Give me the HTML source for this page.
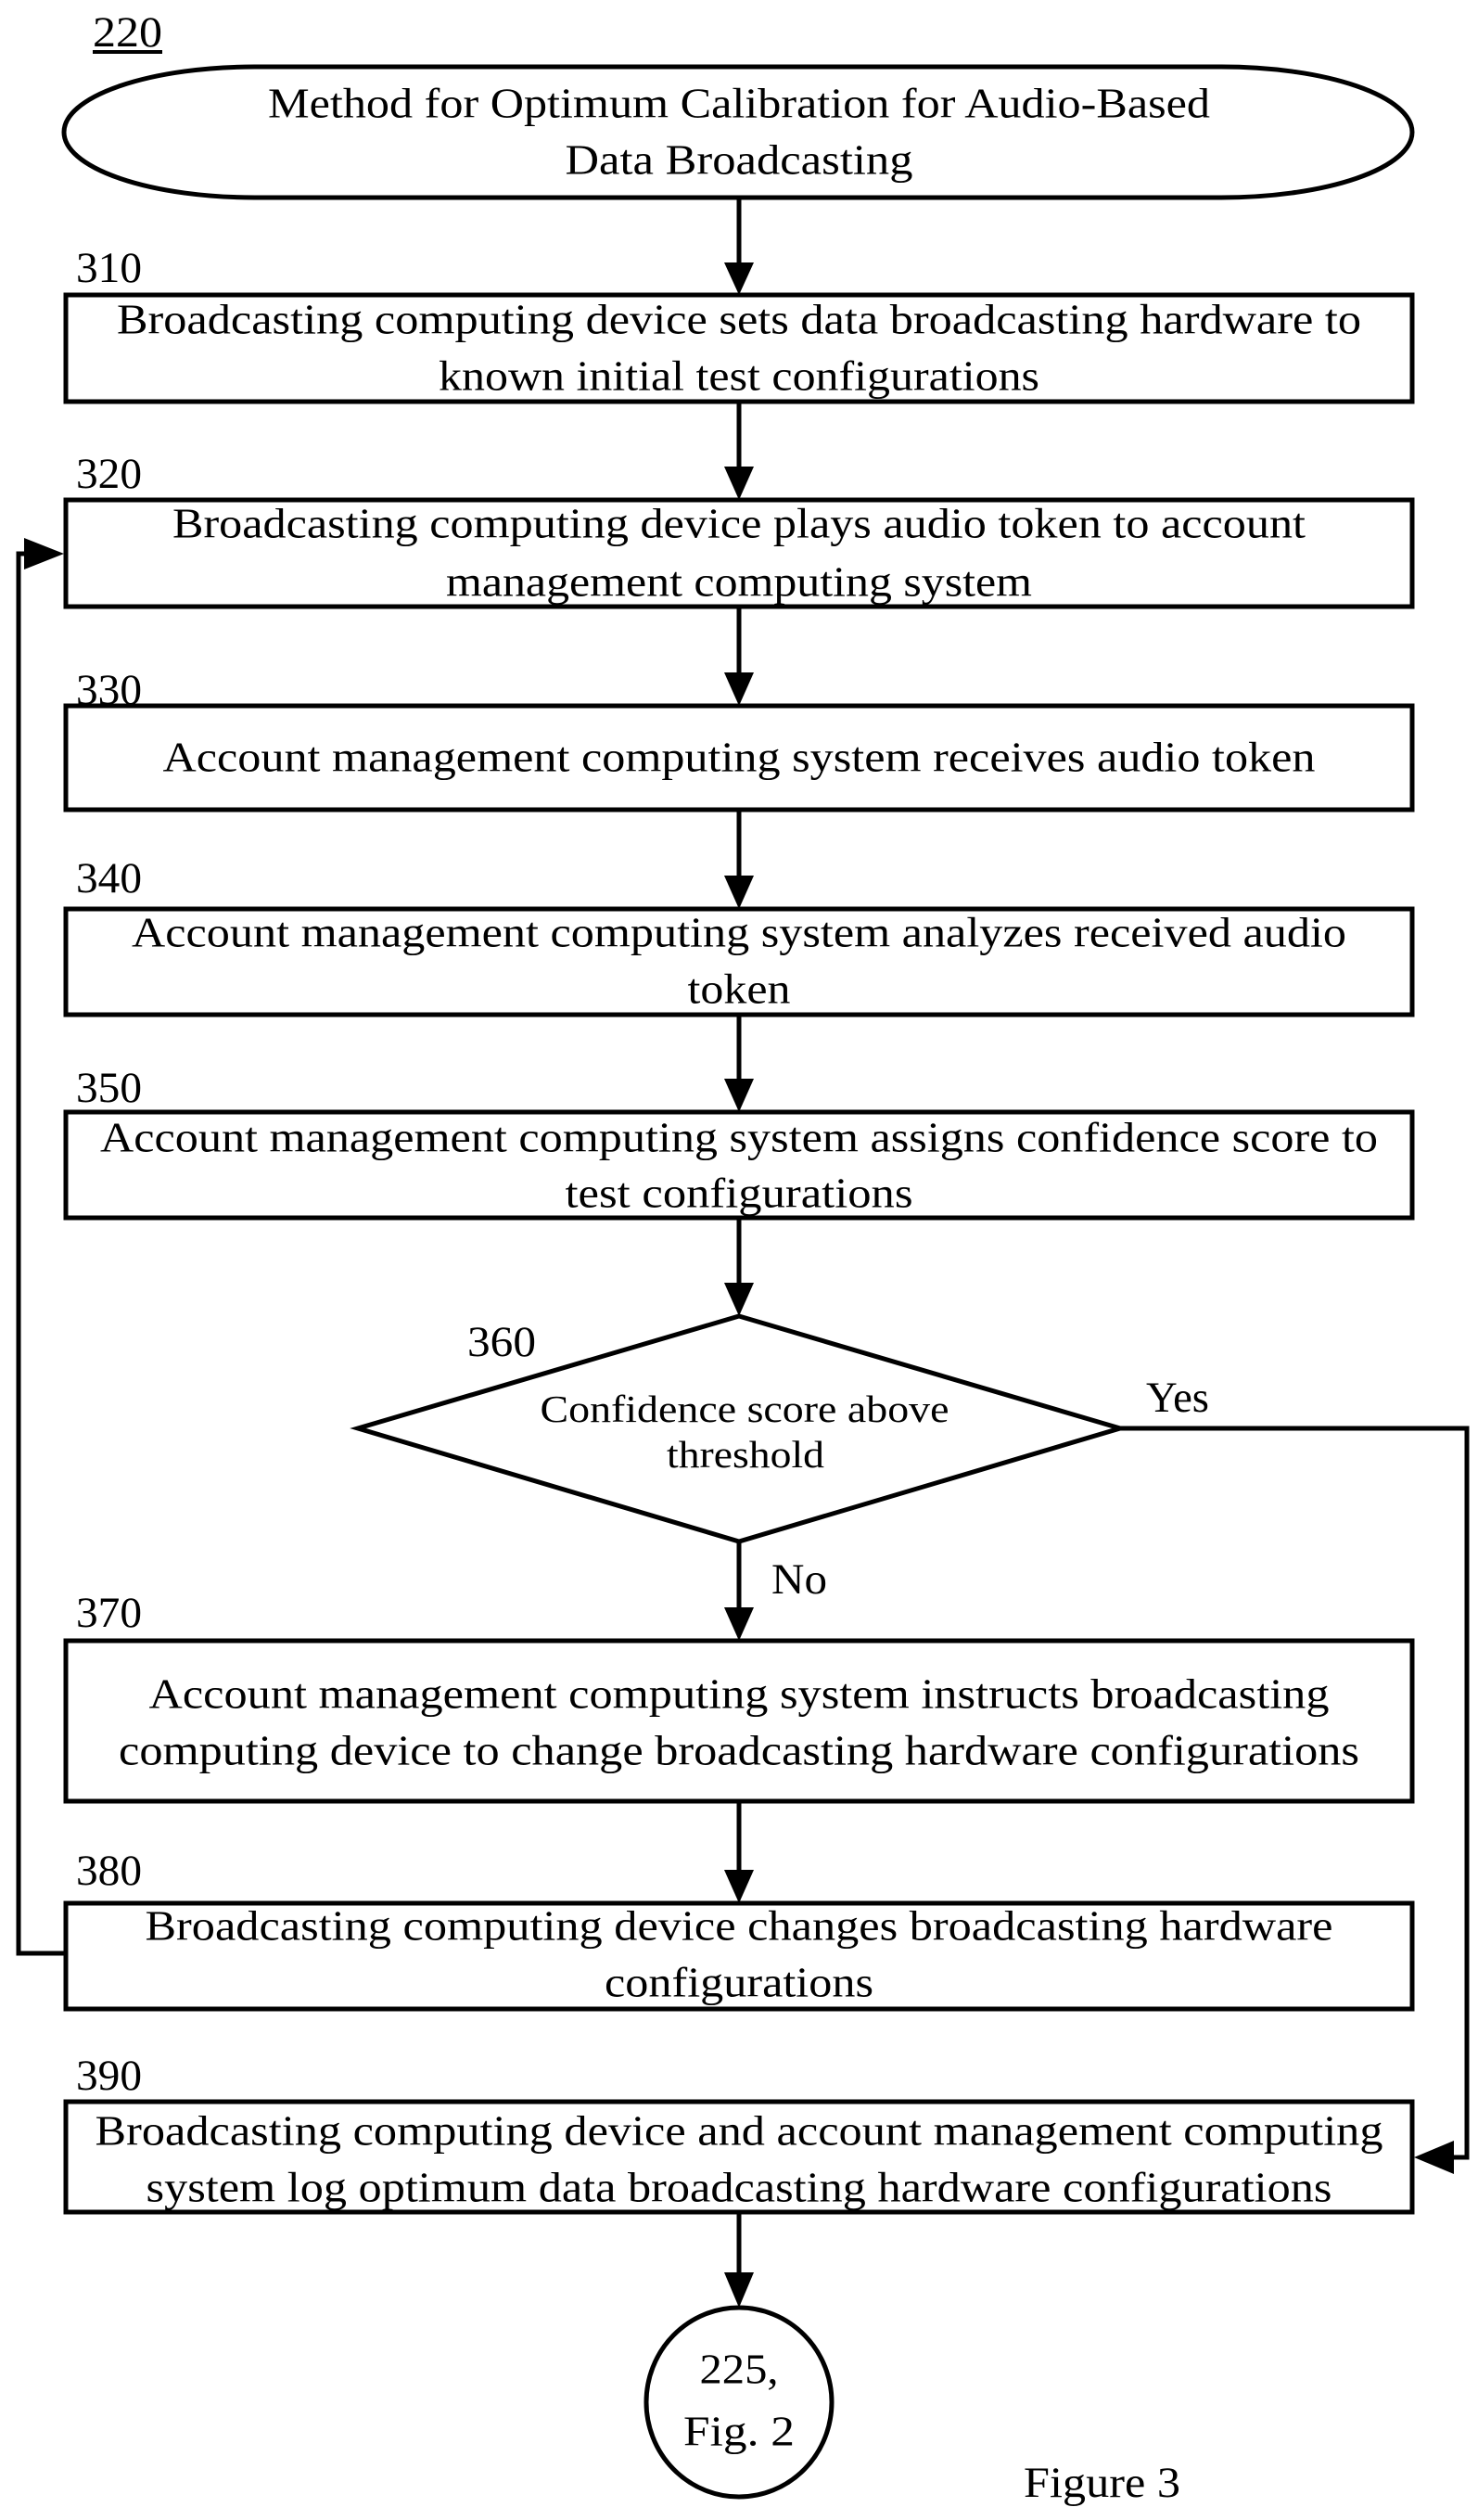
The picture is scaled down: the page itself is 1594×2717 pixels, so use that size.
<!DOCTYPE html>
<html><head><meta charset="utf-8"><style>
html,body{margin:0;padding:0;background:#fff;}
svg{display:block;}
text{font-family:"Liberation Serif",serif;fill:#000;}
</style></head><body>
<svg width="1594" height="2717" viewBox="0 0 1594 2717" xmlns="http://www.w3.org/2000/svg">
<g fill="none" stroke="#000" stroke-width="5">
<rect x="69" y="72" width="1454" height="141" rx="206" ry="70.5"/>
<rect x="71" y="318" width="1452" height="115"/>
<rect x="71" y="539" width="1452" height="115"/>
<rect x="71" y="761" width="1452" height="112"/>
<rect x="71" y="980" width="1452" height="114"/>
<rect x="71" y="1199" width="1452" height="114"/>
<polygon points="797,1419 1208,1540 797,1662 386,1540"/>
<rect x="71" y="1769" width="1452" height="173"/>
<rect x="71" y="2052" width="1452" height="114"/>
<rect x="71" y="2266" width="1452" height="119"/>
<ellipse cx="797" cy="2590" rx="100" ry="102"/>
<line x1="797" y1="213" x2="797" y2="285"/>
<line x1="797" y1="433" x2="797" y2="505"/>
<line x1="797" y1="654" x2="797" y2="727"/>
<line x1="797" y1="873" x2="797" y2="946"/>
<line x1="797" y1="1094" x2="797" y2="1165"/>
<line x1="797" y1="1313" x2="797" y2="1385"/>
<line x1="797" y1="1662" x2="797" y2="1735"/>
<line x1="797" y1="1942" x2="797" y2="2018"/>
<line x1="797" y1="2385" x2="797" y2="2452"/>
<polyline points="71,2106 20,2106 20,597 30,597"/>
<polyline points="1208,1540 1582,1540 1582,2326 1560,2326"/>
<line x1="100" y1="56" x2="175" y2="56" stroke-width="4"/>
</g>
<g fill="#000">
<polygon points="781,283 813,283 797,318"/>
<polygon points="781,503 813,503 797,539"/>
<polygon points="781,725 813,725 797,761"/>
<polygon points="781,944 813,944 797,980"/>
<polygon points="781,1163 813,1163 797,1199"/>
<polygon points="781,1383 813,1383 797,1419"/>
<polygon points="781,1733 813,1733 797,1769"/>
<polygon points="781,2016 813,2016 797,2052"/>
<polygon points="781,2450 813,2450 797,2488"/>
<polygon points="26,580 26,614 69,597"/>
<polygon points="1568,2308 1568,2344 1525,2326"/>
</g>
<g font-size="47">
<text x="100" y="50" textLength="75" lengthAdjust="spacingAndGlyphs">220</text>
<text x="82" y="304" textLength="71" lengthAdjust="spacingAndGlyphs">310</text>
<text x="82" y="526" textLength="71" lengthAdjust="spacingAndGlyphs">320</text>
<text x="82" y="759" textLength="71" lengthAdjust="spacingAndGlyphs">330</text>
<text x="82" y="962" textLength="71" lengthAdjust="spacingAndGlyphs">340</text>
<text x="82" y="1188" textLength="71" lengthAdjust="spacingAndGlyphs">350</text>
<text x="504" y="1462" textLength="74" lengthAdjust="spacingAndGlyphs">360</text>
<text x="82" y="1754" textLength="71" lengthAdjust="spacingAndGlyphs">370</text>
<text x="82" y="2032" textLength="71" lengthAdjust="spacingAndGlyphs">380</text>
<text x="82" y="2253" textLength="71" lengthAdjust="spacingAndGlyphs">390</text>
<text x="1236" y="1522" textLength="68" lengthAdjust="spacingAndGlyphs">Yes</text>
<text x="832" y="1718" textLength="60" lengthAdjust="spacingAndGlyphs">No</text>
<text x="1104" y="2692" textLength="169" lengthAdjust="spacingAndGlyphs">Figure 3</text>
</g>
<g font-size="46" text-anchor="middle" dominant-baseline="central">
<text x="797" y="111" textLength="1016" lengthAdjust="spacingAndGlyphs">Method for Optimum Calibration for Audio-Based</text>
<text x="797" y="172" textLength="375" lengthAdjust="spacingAndGlyphs">Data Broadcasting</text>
<text x="797" y="344" textLength="1342" lengthAdjust="spacingAndGlyphs">Broadcasting computing device sets data broadcasting hardware to</text>
<text x="797" y="405" textLength="648" lengthAdjust="spacingAndGlyphs">known initial test configurations</text>
<text x="797" y="564" textLength="1222" lengthAdjust="spacingAndGlyphs">Broadcasting computing device plays audio token to account</text>
<text x="797" y="627" textLength="632" lengthAdjust="spacingAndGlyphs">management computing system</text>
<text x="797" y="816" textLength="1243" lengthAdjust="spacingAndGlyphs">Account management computing system receives audio token</text>
<text x="797" y="1005" textLength="1310" lengthAdjust="spacingAndGlyphs">Account management computing system analyzes received audio</text>
<text x="797" y="1066" textLength="111" lengthAdjust="spacingAndGlyphs">token</text>
<text x="797" y="1226" textLength="1378" lengthAdjust="spacingAndGlyphs">Account management computing system assigns confidence score to</text>
<text x="797" y="1286" textLength="375" lengthAdjust="spacingAndGlyphs">test configurations</text>
<text x="797" y="1826" textLength="1273" lengthAdjust="spacingAndGlyphs">Account management computing system instructs broadcasting</text>
<text x="797" y="1887" textLength="1338" lengthAdjust="spacingAndGlyphs">computing device to change broadcasting hardware configurations</text>
<text x="797" y="2076" textLength="1281" lengthAdjust="spacingAndGlyphs">Broadcasting computing device changes broadcasting hardware</text>
<text x="797" y="2137" textLength="290" lengthAdjust="spacingAndGlyphs">configurations</text>
<text x="797" y="2297" textLength="1389" lengthAdjust="spacingAndGlyphs">Broadcasting computing device and account management computing</text>
<text x="797" y="2358" textLength="1279" lengthAdjust="spacingAndGlyphs">system log optimum data broadcasting hardware configurations</text>
<text x="797" y="2554" textLength="85" lengthAdjust="spacingAndGlyphs">225,</text>
<text x="797" y="2621" textLength="120" lengthAdjust="spacingAndGlyphs">Fig. 2</text>
</g>
<g font-size="41" text-anchor="middle" dominant-baseline="central">
<text x="803" y="1519" textLength="441" lengthAdjust="spacingAndGlyphs">Confidence score above</text>
<text x="804" y="1568" textLength="170" lengthAdjust="spacingAndGlyphs">threshold</text>
</g>
</svg>
</body></html>
